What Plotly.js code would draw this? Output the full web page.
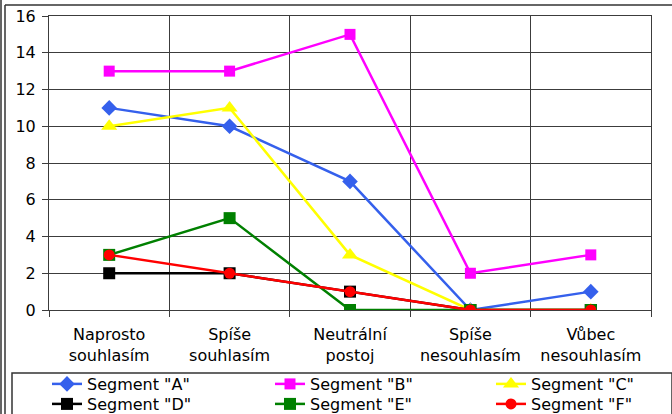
<!DOCTYPE html>
<html><head><meta charset="utf-8">
<script src="https://cdn.plot.ly/plotly-3.0.1.min.js"></script>
<style>html,body{margin:0;padding:0;background:#fff}#chart{width:672px;height:414px}</style>
</head><body><div id="chart"></div>
<script>
const categories = ["Naprosto<br>souhlasím", "Spíše<br>souhlasím", "Neutrální<br>postoj", "Spíše<br>nesouhlasím", "Vůbec<br>nesouhlasím"];
const segA = [11, 10, 7, 0, 1];
const segB = [13, 13, 15, 2, 3];
const segC = [10, 11, 3, 0, 0];
const segD = [2, 2, 1, 0, 0];
const segE = [3, 5, 0, 0, 0];
const segF = [3, 2, 1, 0, 0];
const names = ['Segment "A"', 'Segment "B"', 'Segment "C"', 'Segment "D"', 'Segment "E"', 'Segment "F"'];

function tr(y, name, color, symbol, size, leg) {
  return {x: categories, y: y, name: name, type: 'scatter', mode: 'lines+markers', legend: leg,
    line: {color: color, width: 2.5}, marker: {color: color, symbol: symbol, size: size}};
}
const data = [
  tr(segA, names[0], '#3560ec', 'diamond', 12, 'legend'),
  tr(segB, names[1], '#ff00ff', 'square', 11, 'legend2'),
  tr(segC, names[2], '#ffff00', 'triangle-up', 14, 'legend3'),
  tr(segD, names[3], '#000000', 'square', 12, 'legend4'),
  tr(segE, names[4], '#008000', 'square', 12, 'legend5'),
  tr(segF, names[5], '#ff0000', 'circle', 11, 'legend6')
];
const F = 'DejaVu Sans, Arial, sans-serif';
function leg(px, py) {
  return {orientation: 'h', x: (px - 49) / 602, xanchor: 'left', y: (310 - py) / 294, yanchor: 'middle',
    font: {size: 16, family: F, color: '#000'}, bgcolor: 'rgba(0,0,0,0)', borderwidth: 0, itemsizing: 'trace'};
}
const layout = {
  width: 672, height: 414,
  margin: {l: 49, r: 21, t: 16, b: 104, autoexpand: false},
  paper_bgcolor: '#fff', plot_bgcolor: '#fff',
  font: {family: F, color: '#000'},
  showlegend: true,
  xaxis: {type: 'category', tickson: 'boundaries', showgrid: true, gridcolor: '#3c3c3c', gridwidth: 1,
    ticks: 'outside', ticklen: 6, tickcolor: '#3c3c3c', tickwidth: 1, showline: true, linecolor: '#3c3c3c', linewidth: 1, mirror: true,
    ticklabelstandoff: 10,
    tickfont: {size: 16, family: F, color: '#000'}, range: [-0.5, 4.5], automargin: false, zeroline: false},
  yaxis: {range: [0, 16], dtick: 2, showgrid: true, gridcolor: '#3c3c3c', gridwidth: 1,
    ticks: 'outside', ticklen: 6, tickcolor: '#3c3c3c', tickwidth: 1, showline: true, linecolor: '#3c3c3c', linewidth: 1, mirror: true,
    ticklabelstandoff: 3,
    tickfont: {size: 16, family: F, color: '#000'}, automargin: false, zeroline: false},
  legend: leg(47, 384),
  legend2: leg(270, 384),
  legend3: leg(491, 384),
  legend4: leg(47, 404),
  legend5: leg(270, 404),
  legend6: leg(491, 404),
  shapes: [
    {type: 'line', xref: 'paper', yref: 'paper', x0: (1-49)/602, x1: (1-49)/602, y0: (310-0)/294, y1: (310-420)/294, line: {color: '#333', width: 1.5}},
    {type: 'line', xref: 'paper', yref: 'paper', x0: (5-49)/602, x1: (5-49)/602, y0: (310-5)/294, y1: (310-420)/294, line: {color: '#333', width: 1.5}},
    {type: 'line', xref: 'paper', yref: 'paper', x0: (5-49)/602, x1: (680-49)/602, y0: (310-5)/294, y1: (310-5)/294, line: {color: '#333', width: 1.5}},
    {type: 'rect', xref: 'paper', yref: 'paper', x0: (12-49)/602, x1: (672-49)/602, y0: (310-373)/294, y1: (310-420)/294, line: {color: '#333', width: 1.5}}
  ]
};
Plotly.newPlot('chart', data, layout, {staticPlot: true, displayModeBar: false});
</script></body></html>
